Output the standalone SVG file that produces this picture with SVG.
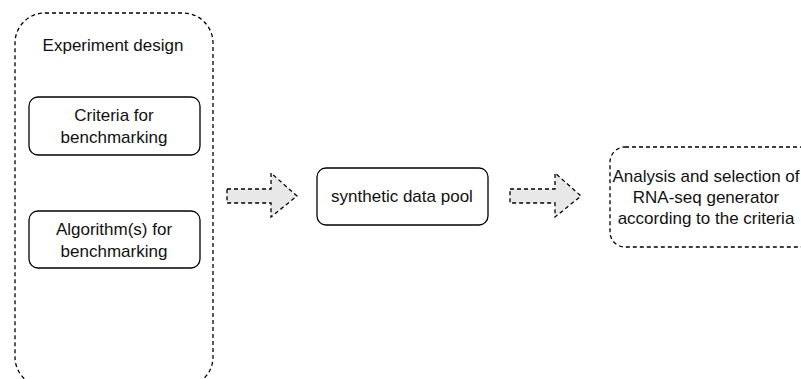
<svg xmlns="http://www.w3.org/2000/svg" width="801" height="379" viewBox="0 0 801 379">
<style>
  .dash { fill: none; stroke: #000; stroke-width: 1.3; stroke-dasharray: 4 3; }
  .solid { fill: #fff; stroke: #000; stroke-width: 1.3; }
  .arrow { fill: #e8e8e8; stroke: #000; stroke-width: 1.3; stroke-dasharray: 4 3; }
  text { font-family: "Liberation Sans", Arial, sans-serif; font-size: 17px; fill: #111; text-anchor: middle; }
</style>
<rect width="801" height="379" fill="#fff"/>
<g id="experiment-design">
  <rect class="dash" x="15" y="13" width="198" height="374" rx="30" ry="30"/>
  <text x="113" y="51">Experiment design</text>
</g>
<g id="criteria">
  <rect class="solid" x="29" y="97" width="171" height="58" rx="9" ry="9"/>
  <text x="114" y="121">Criteria for</text>
  <text x="114" y="143">benchmarking</text>
</g>
<g id="algorithms">
  <rect class="solid" x="29" y="211" width="171" height="57" rx="9" ry="9"/>
  <text x="114" y="235">Algorithm(s) for</text>
  <text x="114" y="257">benchmarking</text>
</g>
<g id="synthetic-data-pool">
  <rect class="solid" x="317" y="168" width="171" height="57" rx="9" ry="9"/>
  <text x="402" y="202">synthetic data pool</text>
</g>
<g id="analysis">
  <rect class="dash" x="610" y="147" width="205" height="100" rx="15" ry="15"/>
  <text x="706" y="182">Analysis and selection of</text>
  <text x="706" y="203">RNA-seq generator</text>
  <text x="706" y="224">according to the criteria</text>
</g>
<g id="connectors">
  <path class="arrow" d="M227,189 L271,189 L271,173 L297,196 L271,217 L271,203 L227,203 Z"/>
  <path class="arrow" d="M510,189 L555,189 L555,173 L581,196 L555,217 L555,203 L510,203 Z"/>
</g>
</svg>
